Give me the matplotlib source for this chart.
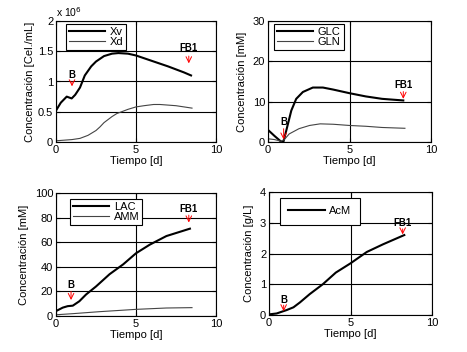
import matplotlib
matplotlib.use("Agg")
import matplotlib.pyplot as plt

plt.rcParams['font.family'] = ['Liberation Sans', 'DejaVu Sans']

# Panel 1: cells (x 1e6)
t_xv = [0, 0.3, 0.67, 0.98, 1.2, 1.5, 1.8, 2.2, 2.5, 3.0, 3.5, 3.9, 4.5, 5.0, 6.0, 7.0, 8.0, 8.44]
xv = [0.52, 0.65, 0.75, 0.72, 0.78, 0.90, 1.10, 1.25, 1.33, 1.42, 1.46, 1.47, 1.46, 1.43, 1.34, 1.25, 1.15, 1.10]
t_xd = [0, 0.5, 1.0, 1.5, 2.0, 2.5, 2.75, 3.0, 3.5, 3.8, 4.5, 5.0, 5.5, 6.1, 6.5, 7.0, 7.5, 8.0, 8.5]
xd = [0.02, 0.03, 0.04, 0.06, 0.11, 0.19, 0.25, 0.32, 0.42, 0.47, 0.54, 0.58, 0.60, 0.62, 0.62, 0.61, 0.60, 0.58, 0.56]

# Panel 2: GLC / GLN [mM]
t_glc = [0, 0.4, 0.8, 0.95, 1.1, 1.43, 1.73, 2.14, 2.75, 3.37, 4.0, 5.0, 6.0, 7.0, 8.3]
glc = [3.0, 1.5, 0.1, 0.1, 2.5, 7.8, 10.7, 12.4, 13.5, 13.5, 13.0, 12.1, 11.3, 10.7, 10.3]
t_gln = [0, 0.4, 0.8, 1.0, 1.3, 1.9, 2.55, 3.2, 4.0, 5.0, 6.0, 7.0, 8.4]
gln = [0.8, 0.6, 0.2, 0.6, 2.0, 3.3, 4.1, 4.5, 4.4, 4.1, 3.9, 3.6, 3.4]

# Panel 3: LAC / AMM [mM]
t_lac = [0, 0.42, 0.73, 1.05, 1.46, 1.88, 2.5, 3.35, 4.2, 5.0, 5.86, 6.9, 8.37]
lac = [4.0, 6.8, 8.0, 8.4, 12.0, 17.5, 24.0, 34.0, 42.0, 51.0, 58.0, 65.0, 71.0]
t_amm = [0, 1.05, 2.7, 5.0, 6.9, 8.5]
amm = [1.0, 1.9, 3.5, 5.4, 6.5, 6.8]

# Panel 4: AcM [g/L]
t_acm = [0, 0.47, 1.08, 1.5, 1.9, 2.5, 3.3, 4.1, 5.0, 6.0, 7.0, 8.3]
acm = [0.02, 0.05, 0.16, 0.25, 0.41, 0.68, 1.0, 1.38, 1.68, 2.05, 2.3, 2.6]

# Markers: (x, text_y, arrow_top, arrow_bottom)
marks1 = {"B": (1.0, 1.03, 1.0, 0.92), "FB1": (8.3, 1.47, 1.42, 1.30)}
marks2 = {"B": (0.96, 3.6, 3.3, 0.6), "FB1": (8.3, 13.0, 12.5, 10.7)}
marks3 = {"B": (0.94, 21.0, 20.0, 13.0), "FB1": (8.3, 83.0, 82.0, 76.0)}
marks4 = {"B": (0.9, 0.34, 0.32, 0.12), "FB1": (8.2, 2.82, 2.8, 2.62)}

W, H = 467, 352
fig = plt.figure(figsize=(W / 100, H / 100), dpi=100)

def add_ax(l, r, t, b):
    return fig.add_axes([l / W, 1 - b / H, (r - l) / W, (b - t) / H])

ax1 = add_ax(56, 216, 21, 142)
ax2 = add_ax(268, 431, 21, 142)
ax3 = add_ax(56, 216, 193, 316)
ax4 = add_ax(269, 432, 192, 315)

thick = dict(color='black', lw=1.5)
thin = dict(color='#444444', lw=0.8)

ax1.plot(t_xv, xv, label='Xv', **thick)
ax1.plot(t_xd, xd, label='Xd', **thin)
ax1.set_ylim(0, 2); ax1.set_yticks([0, 0.5, 1, 1.5, 2]); ax1.set_yticklabels(['0', '0.5', '1', '1.5', '2'])
ax1.set_ylabel('Concentración [Cel./mL]')

ax2.plot(t_glc, glc, label='GLC', **thick)
ax2.plot(t_gln, gln, label='GLN', **thin)
ax2.set_ylim(0, 30); ax2.set_yticks([0, 10, 20, 30])
ax2.set_ylabel('Concentración [mM]')

ax3.plot(t_lac, lac, label='LAC', **thick)
ax3.plot(t_amm, amm, label='AMM', **thin)
ax3.set_ylim(0, 100); ax3.set_yticks([0, 20, 40, 60, 80, 100])
ax3.set_ylabel('Concentración [mM]')

ax4.plot(t_acm, acm, label='AcM', **thick)
ax4.set_ylim(0, 4); ax4.set_yticks([0, 1, 2, 3, 4])
ax4.set_ylabel('Concentración [g/L]')

legpos = {ax1: (10, 3, 0.25), ax2: (6, 3, 0.25), ax3: (14, 6, 0.25), ax4: (11, 6, 0.75)}

for ax, marks in [(ax1, marks1), (ax2, marks2), (ax3, marks3), (ax4, marks4)]:
    ax.set_xlim(0, 10); ax.set_xticks([0, 5, 10])
    ax.set_xlabel('Tiempo [d]', fontsize=8, labelpad=1)
    ax.yaxis.label.set_fontsize(8)
    ax.grid(True, color='black', lw=0.8)
    ax.tick_params(direction='in', top=True, right=True, labelsize=8, length=3, pad=2)
    for s in ax.spines.values():
        s.set_linewidth(0.8)
    for name, (x, ty, a0, a1) in marks.items():
        ax.text(x, ty, name, ha='center', va='bottom', fontsize=7, fontweight='bold')
        ax.annotate('', xy=(x, a1), xytext=(x, a0),
                    arrowprops=dict(arrowstyle='->', color='red', lw=0.7, shrinkA=0, shrinkB=0))
    bb = ax.get_window_extent()
    dx, dy, bp = legpos[ax]
    leg = ax.legend(loc='upper left', fontsize=8, handlelength=3.3, frameon=True, fancybox=False,
                    edgecolor='black', borderpad=bp, labelspacing=0.0, handletextpad=0.4,
                    bbox_to_anchor=(dx / bb.width, 1 - dy / bb.height), borderaxespad=0,
                    framealpha=1)
    leg.get_frame().set_linewidth(0.8)

ax1.yaxis.labelpad = 2
fig.text(56 / W, 1 - 12 / H, r'x 10$^{6}$', fontsize=7.5, ha='left', va='center')

fig.savefig('out.png', dpi=100)
